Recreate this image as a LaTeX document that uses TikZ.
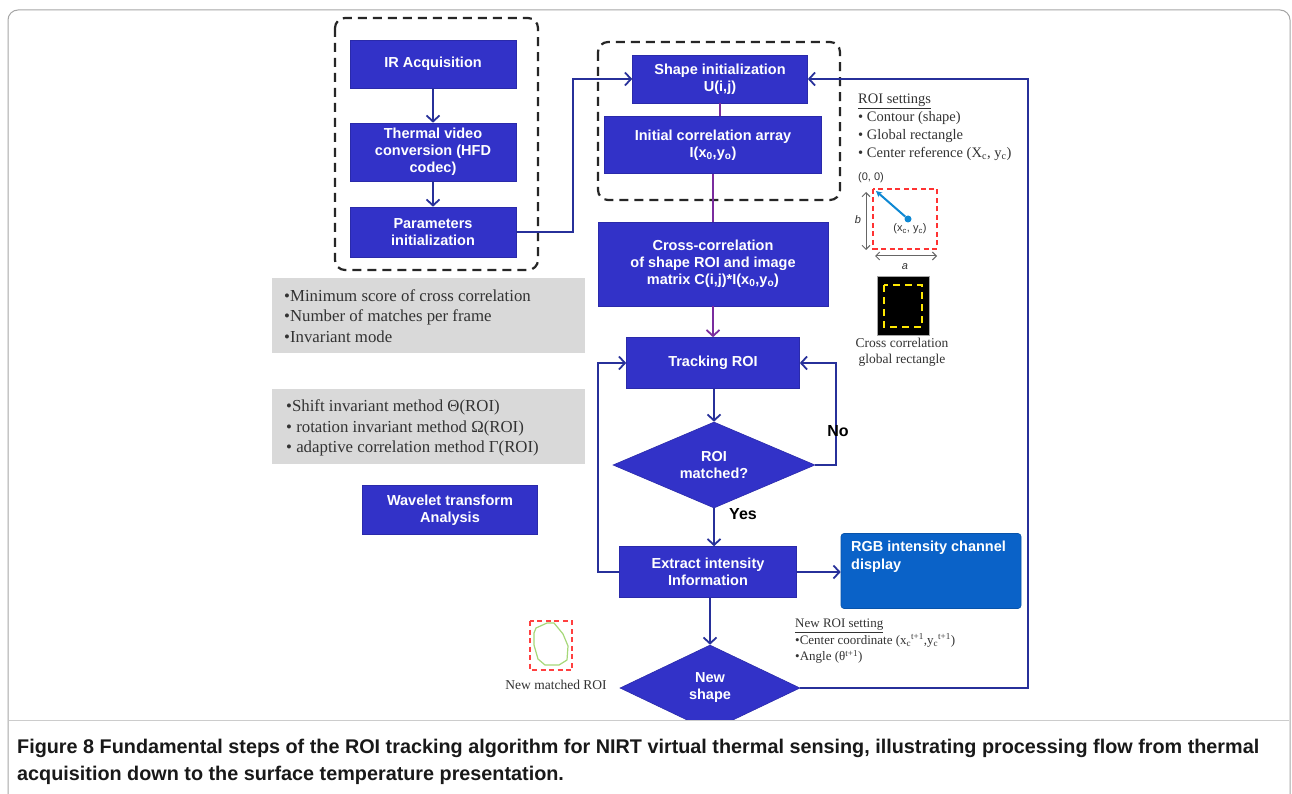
\documentclass[tikz,border=0pt]{standalone}
\usepackage{fontspec}
\setmainfont{Liberation Serif}
\newfontfamily\arial{Liberation Sans}
\usetikzlibrary{arrows.meta,shapes.geometric,calc}
\definecolor{boxblue}{HTML}{3232C8}
\definecolor{rgbblue}{HTML}{0A62C8}
\definecolor{navy}{HTML}{27309A}
\definecolor{purp}{HTML}{7A2C9E}
\definecolor{greyfill}{HTML}{D9D9D9}
\definecolor{txtgrey}{HTML}{333333}
\definecolor{palegreen}{HTML}{A6D879}
\begin{document}
\begin{tikzpicture}[x=1pt,y=-1pt,
  blk/.style={draw=boxblue!85!black, line width=0.6pt, fill=boxblue, text=white,
    font=\arial\bfseries\fontsize{14.5}{17}\selectfont, align=center, inner sep=2pt, rectangle},
  dia/.style={blk, diamond, aspect=2.3, inner sep=0pt},
  grp/.style={draw=black!85, line width=2.2pt, dash pattern=on 9pt off 6pt, rounded corners=10pt},
  gbox/.style={fill=greyfill, draw=none, minimum width=313pt, minimum height=75pt},
  arr/.style={draw=navy, line width=2pt, -{Straight Barb[length=6pt,width=13pt,line width=1.8pt]}},
  ln/.style={draw=navy, line width=2pt},
  parr/.style={draw=purp, line width=2pt, -{Straight Barb[length=6pt,width=13pt,line width=1.8pt]}},
  pln/.style={draw=purp, line width=2pt},
  sertxt/.style={font=\fontsize{14.5}{18}\selectfont, text=txtgrey, align=left, inner sep=0pt},
  lbl/.style={font=\arial\bfseries\fontsize{16}{18}\selectfont, text=black, inner sep=0pt}
]
\useasboundingbox (0,0) rectangle (1292,794);
\fill[white] (0,0) rectangle (1292,794);
% outer frame
\draw[gray!70, line width=1pt, rounded corners=10pt] (8,794) -- (8,10) -- (1290,10) -- (1290,794);

\begin{scope}
\clip (9,11) rectangle (1289,720);

% group boxes
\draw[grp] (335,18) rectangle (538,270);
\draw[grp] (598,42) rectangle (840,200);

% left column
\node[blk, minimum width=166pt, minimum height=48pt] (ir) at (433,64) {IR Acquisition};
\node[blk, minimum width=166pt, minimum height=58pt] (tv) at (433,152) {Thermal video\\conversion (HFD\\codec)};
\node[blk, minimum width=166pt, minimum height=50pt] (pi) at (433,232) {Parameters\\initialization};

\node[gbox] (g1) at (428.5,315.5) {};
\node[gbox] (g2) at (428.5,426.5) {};
\node[sertxt, font=\fontsize{16.8}{20.5}\selectfont, anchor=west] (g1t) at (284,316) {\textbullet Minimum score of cross correlation\\\textbullet Number of matches per frame\\\textbullet Invariant mode};
\node[sertxt, font=\fontsize{16.8}{20.5}\selectfont, anchor=west] (g2t) at (286,428) {\textbullet Shift invariant method Θ(ROI)\\\textbullet\ rotation invariant method Ω(ROI)\\\textbullet\ adaptive correlation method Γ(ROI)};

\node[blk, minimum width=175pt, minimum height=49pt] (wv) at (450,510) {Wavelet transform\\Analysis};

% main column
\node[blk, minimum width=175pt, minimum height=48pt] (si) at (720,79) {Shape initialization\\U(i,j)};
\node[blk, minimum width=217pt, minimum height=57pt] (ic) at (713,145) {Initial correlation array\\I(x\textsubscript{0},y\textsubscript{o})};
\node[blk, minimum width=230pt, minimum height=84pt] (cc) at (713,264) {Cross-correlation\\of shape ROI and image\\matrix C(i,j)*I(x\textsubscript{0},y\textsubscript{o})};
\node[blk, minimum width=173pt, minimum height=51pt] (tr) at (713,363) {Tracking ROI};
\node[dia, minimum width=202pt, minimum height=86pt] (dm) at (714,465) {ROI\\matched?};
\node[blk, minimum width=177pt, minimum height=51pt] (ex) at (708,572) {Extract intensity\\Information};
\node[blk, draw=rgbblue!85!black, fill=rgbblue, rounded corners=3pt, minimum width=180pt, minimum height=75pt] (rgb) at (931,571) {};
\node[font=\arial\bfseries\fontsize{14.5}{18}\selectfont, text=white, align=left, anchor=north west, inner sep=0pt] (rgbt) at (851,541) {RGB intensity channel\\display};
\node[dia, minimum width=180pt, minimum height=86pt] (ns) at (710,688) {New\\shape};

% connectors
\draw[arr] (ir) -- (tv);
\draw[arr] (tv) -- (pi);
\coordinate (c1) at (573,232);
\draw[arr] (pi.east) -- (c1) |- (si.west);
\draw[pln] (si.south) -- (si.south |- ic.north);
\draw[pln] (cc.north |- ic.south) -- (cc.north);
\draw[parr] (cc.south) -- (tr.north);
\draw[arr] (tr.south -| dm.north) -- (dm.north);
\coordinate (cno) at (836,465);
\draw[arr] (dm.east) -- (cno) |- (tr.east);
\coordinate (cl) at (598,572);
\draw[arr] (ex.west) -- (cl) |- (tr.west);
\draw[arr] (dm.south) -- (dm.south |- ex.north);
\draw[arr] (ex.east) -- (ex.east -| rgb.west);
\draw[arr] (ex.south -| ns.north) -- (ns.north);
\coordinate (cfb) at (1028,688);
\draw[arr] (ns.east) -- (cfb) |- (si.east);

\node[lbl] (no) at (838,431) {No};
\node[lbl] (yes) at (743,514) {Yes};

% ROI settings
\node[sertxt, anchor=north west, font=\fontsize{14.5}{18}\selectfont] (rs) at (858,94) {\underline{ROI settings}\\\textbullet\ Contour (shape)\\\textbullet\ Global rectangle\\\textbullet\ Center reference (X\textsubscript{c}, y\textsubscript{c})};
\node[font=\arial\fontsize{11}{13}\selectfont, text=txtgrey, inner sep=0pt] (o0) at (871,178) {(0, 0)};
\draw[red!80, line width=1.6pt, dash pattern=on 5pt off 3.5pt] (873,189) rectangle (937,249);
\node[circle, fill=cyan!70!blue, inner sep=0pt, minimum size=7pt] (dot) at (908,219) {};
\coordinate (corner) at (876,191);
\draw[cyan!70!blue, line width=2pt, -{Stealth[length=6pt,width=6pt]}] (dot) -- (corner);
\node[font=\arial\fontsize{11}{13}\selectfont, text=txtgrey, inner sep=0pt] (xcyc) at (910,229) {(x\textsubscript{c}, y\textsubscript{c})};
\coordinate (bt) at (866,192);
\coordinate (bb) at (866,250);
\draw[gray!80!black, line width=1pt, {Straight Barb[length=4pt,width=8pt]}-{Straight Barb[length=4pt,width=8pt]}] (bt) -- (bb);
\node[font=\arial\itshape\fontsize{11}{13}\selectfont, text=txtgrey, inner sep=0pt] (bl) at (858,220) {b};
\coordinate (al) at (875,256);
\coordinate (ar) at (937,256);
\draw[gray!80!black, line width=1pt, {Straight Barb[length=4pt,width=8pt]}-{Straight Barb[length=4pt,width=8pt]}] (al) -- (ar);
\node[font=\arial\itshape\fontsize{11}{13}\selectfont, text=txtgrey, inner sep=0pt] (alb) at (905,267) {a};

\fill[black] (877,276) rectangle (929,335);
\draw[gray!70, line width=0.6pt] (877,276) rectangle (929,335);
\draw[yellow!90!orange, line width=2pt, dash pattern=on 7pt off 5pt] (884,285) rectangle (922,327);
\node[sertxt, align=center, font=\fontsize{13.5}{16}\selectfont] (ccg) at (902,352) {Cross correlation\\global rectangle};

% new matched ROI
\draw[red!75, line width=1.6pt, dash pattern=on 5pt off 3.5pt] (530,621) rectangle (572,670);
\draw[palegreen, line width=1.2pt, line join=round] (536,628) -- (547,623) -- (554,623) -- (563,634) -- (568,646) -- (567,660) -- (559,665) -- (545,665) -- (538,659) -- (534,645) -- (534,633) -- cycle;
\node[sertxt, font=\fontsize{13.5}{16}\selectfont] (nmr) at (556,685) {New matched ROI};

% new ROI setting
\node[sertxt, anchor=north west, font=\fontsize{13}{16.5}\selectfont] (nrs) at (795,619) {\underline{New ROI setting}\\\textbullet Center coordinate (x\textsubscript{c}\textsuperscript{t+1},y\textsubscript{c}\textsuperscript{t+1})\\\textbullet Angle (θ\textsuperscript{t+1})};
\end{scope}

\draw[gray!40, line width=1pt] (9,720) -- (1289,720);

% caption
\node[anchor=north west, align=left, inner sep=0pt, text=black!90,
  font=\arial\bfseries\fontsize{19.8}{27}\selectfont] (cap) at (17,739)
  {Figure 8 Fundamental steps of the ROI tracking algorithm for NIRT virtual thermal sensing, illustrating processing flow from thermal\\acquisition down to the surface temperature presentation.};
\end{tikzpicture}
\end{document}
